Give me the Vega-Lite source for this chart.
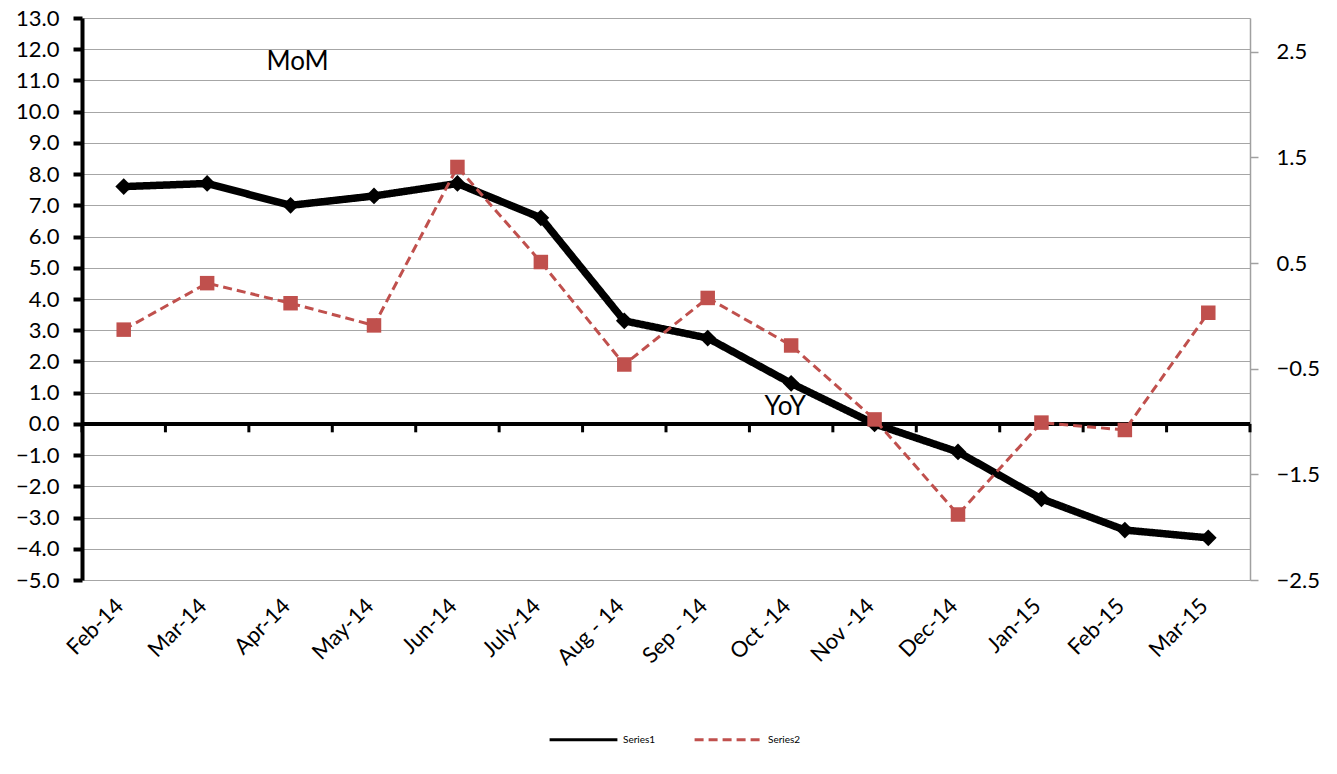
{
  "$schema": "https://vega.github.io/schema/vega-lite/v6.json",
  "width": 1168,
  "height": 562,
  "autosize": {"type": "none"},
  "padding": {"left": 82, "top": 18, "right": 87, "bottom": 194},
  "config": {"font": "Lato", "view": {"stroke": null}},
  "data": {
    "values": [
      {"month": "Feb-14", "s1": 7.6, "s2": -0.13},
      {"month": "Mar-14", "s1": 7.7, "s2": 0.31},
      {"month": "Apr-14", "s1": 7.0, "s2": 0.12},
      {"month": "May-14", "s1": 7.3, "s2": -0.09},
      {"month": "Jun-14", "s1": 7.7, "s2": 1.41},
      {"month": "July-14", "s1": 6.6, "s2": 0.51},
      {"month": "Aug - 14", "s1": 3.3, "s2": -0.46},
      {"month": "Sep - 14", "s1": 2.75, "s2": 0.17},
      {"month": "Oct -14", "s1": 1.3, "s2": -0.28},
      {"month": "Nov -14", "s1": 0.0, "s2": -0.98},
      {"month": "Dec-14", "s1": -0.9, "s2": -1.88},
      {"month": "Jan-15", "s1": -2.4, "s2": -1.01},
      {"month": "Feb-15", "s1": -3.4, "s2": -1.08},
      {"month": "Mar-15", "s1": -3.65, "s2": 0.03}
    ]
  },
  "layer": [
    {
      "encoding": {
        "y": {
          "type": "quantitative",
          "scale": {"domain": [-5, 13], "nice": false, "zero": false},
          "axis": {
            "title": null,
            "values": [-5, -4, -3, -2, -1, 0, 1, 2, 3, 4, 5, 6, 7, 8, 9, 10, 11, 12, 13],
            "format": ".1f",
            "domainColor": "black",
            "domainWidth": 4,
            "tickColor": "black",
            "tickWidth": 4,
            "tickSize": 9,
            "labelFontSize": 22,
            "labelColor": "black",
            "labelPadding": 14,
            "grid": true,
            "gridColor": "#a6a6a6",
            "gridWidth": 1.2
          }
        }
      },
      "layer": [
        {
          "mark": {"type": "rule", "color": "black", "strokeWidth": 4},
          "encoding": {"y": {"datum": 0}}
        },
        {
          "mark": {"type": "rule", "color": "black", "strokeWidth": 3},
          "encoding": {
            "x": {"field": "month", "type": "nominal", "sort": null, "bandPosition": 0},
            "y": {"datum": 0},
            "y2": {"datum": -0.27}
          }
        },
        {
          "transform": [{"filter": "datum.month === 'Mar-15'"}],
          "mark": {"type": "rule", "color": "black", "strokeWidth": 3},
          "encoding": {
            "x": {"field": "month", "type": "nominal", "sort": null, "bandPosition": 1},
            "y": {"datum": 0},
            "y2": {"datum": -0.27}
          }
        },
        {
          "mark": {
            "type": "line",
            "strokeWidth": 7.5,
            "point": {"shape": "diamond", "size": 280, "filled": true}
          },
          "encoding": {
            "x": {
              "field": "month",
              "type": "nominal",
              "sort": null,
              "scale": {"paddingInner": 0, "paddingOuter": 0},
              "axis": {
                "title": null,
                "domain": false,
                "ticks": false,
                "labelAngle": -45,
                "labelFontSize": 22,
                "labelColor": "black",
                "labelPadding": 22,
                "labelOffset": -4
              }
            },
            "y": {"field": "s1"},
            "color": {
              "datum": "Series1",
              "type": "nominal",
              "scale": {"domain": ["Series1", "Series2"], "range": ["black", "#c0504d"]},
              "legend": {
                "title": null,
                "orient": "none",
                "direction": "horizontal",
                "legendX": 466,
                "legendY": 686,
                "symbolType": "stroke",
                "symbolSize": 4600,
                "symbolStrokeWidth": 3,
                "labelFontSize": 10,
                "labelColor": "black",
                "columnPadding": 32
              }
            },
            "strokeDash": {
              "datum": "Series1",
              "type": "nominal",
              "scale": {"domain": ["Series1", "Series2"], "range": [[1, 0], [9, 5]]},
              "legend": null
            }
          }
        },
        {
          "transform": [{"filter": "datum.month === 'Apr-14'"}],
          "mark": {"type": "text", "fontSize": 26, "color": "black", "dx": 7},
          "encoding": {
            "x": {"field": "month", "type": "nominal", "sort": null},
            "y": {"datum": 11.6},
            "text": {"value": "MoM"}
          }
        },
        {
          "transform": [{"filter": "datum.month === 'Oct -14'"}],
          "mark": {"type": "text", "fontSize": 26, "color": "black", "dx": -6},
          "encoding": {
            "x": {"field": "month", "type": "nominal", "sort": null},
            "y": {"datum": 0.55},
            "text": {"value": "YoY"}
          }
        }
      ]
    },
    {
      "mark": {
        "type": "line",
        "strokeWidth": 3,
        "point": {"shape": "square", "size": 210, "filled": true}
      },
      "encoding": {
        "x": {"field": "month", "type": "nominal", "sort": null},
        "y": {
          "field": "s2",
          "type": "quantitative",
          "scale": {"domain": [-2.5, 2.82], "nice": false, "zero": false},
          "axis": {
            "orient": "right",
            "title": null,
            "values": [-2.5, -1.5, -0.5, 0.5, 1.5, 2.5],
            "format": ".1f",
            "domainColor": "#a0a0a0",
            "domainWidth": 1.5,
            "tickColor": "#a0a0a0",
            "tickWidth": 1.5,
            "tickSize": 8,
            "labelFontSize": 22,
            "labelColor": "black",
            "labelPadding": 18,
            "grid": false
          }
        },
        "color": {"datum": "Series2", "type": "nominal"},
        "strokeDash": {"datum": "Series2", "type": "nominal"}
      }
    }
  ],
  "resolve": {"scale": {"y": "independent"}, "axis": {"y": "independent"}}
}
